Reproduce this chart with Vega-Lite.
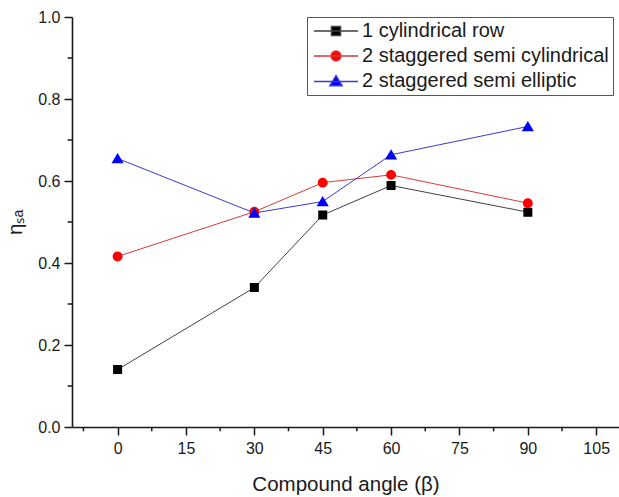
{
  "$schema": "https://vega.github.io/schema/vega-lite/v6.json",
  "width": 547,
  "height": 410,
  "autosize": {"type": "none"},
  "padding": {"left": 72, "top": 17, "right": 0, "bottom": 70},
  "background": "white",
  "config": {
    "view": {"stroke": null},
    "font": "Liberation Sans",
    "axis": {
      "domainColor": "#1a1a1a",
      "domainWidth": 1.6,
      "tickColor": "#1a1a1a",
      "tickWidth": 1.5,
      "tickSize": 8,
      "grid": false,
      "labelFont": "Liberation Sans",
      "labelFontSize": 16,
      "labelColor": "#1a1a1a",
      "titleFont": "Liberation Sans",
      "titleFontSize": 20.5,
      "titleFontWeight": "normal",
      "titleColor": "#1a1a1a"
    },
    "legend": {
      "orient": "none",
      "legendX": 235,
      "legendY": 0,
      "strokeColor": "#555555",
      "fillColor": "white",
      "padding": 4,
      "labelFont": "Liberation Sans",
      "labelFontSize": 20,
      "labelLimit": 0,
      "labelColor": "#1a1a1a",
      "symbolSize": 81,
      "symbolOffset": 15,
      "labelOffset": 16,
      "rowPadding": 5
    }
  },
  "datasets": {
    "main": [
      {"beta": 0, "eta": 0.140, "series": "1 cylindrical row"},
      {"beta": 30, "eta": 0.340, "series": "1 cylindrical row"},
      {"beta": 45, "eta": 0.517, "series": "1 cylindrical row"},
      {"beta": 60, "eta": 0.589, "series": "1 cylindrical row"},
      {"beta": 90, "eta": 0.524, "series": "1 cylindrical row"},
      {"beta": 0, "eta": 0.416, "series": "2 staggered semi cylindrical"},
      {"beta": 30, "eta": 0.525, "series": "2 staggered semi cylindrical"},
      {"beta": 45, "eta": 0.596, "series": "2 staggered semi cylindrical"},
      {"beta": 60, "eta": 0.615, "series": "2 staggered semi cylindrical"},
      {"beta": 90, "eta": 0.546, "series": "2 staggered semi cylindrical"},
      {"beta": 0, "eta": 0.655, "series": "2 staggered semi elliptic"},
      {"beta": 30, "eta": 0.522, "series": "2 staggered semi elliptic"},
      {"beta": 45, "eta": 0.550, "series": "2 staggered semi elliptic"},
      {"beta": 60, "eta": 0.664, "series": "2 staggered semi elliptic"},
      {"beta": 90, "eta": 0.733, "series": "2 staggered semi elliptic"}
    ],
    "xminor": [
      {"xm": -7.5}, {"xm": 7.5}, {"xm": 22.5}, {"xm": 37.5},
      {"xm": 52.5}, {"xm": 67.5}, {"xm": 82.5}, {"xm": 97.5}
    ],
    "yminor": [
      {"ym": 0.1}, {"ym": 0.3}, {"ym": 0.5}, {"ym": 0.7}, {"ym": 0.9}
    ]
  },
  "layer": [
    {
      "data": {"name": "xminor"},
      "mark": {"type": "rule", "color": "#1a1a1a", "strokeWidth": 1.5, "clip": false},
      "encoding": {
        "x": {"field": "xm", "type": "quantitative", "scale": {"domain": [-10, 110], "nice": false, "zero": false}},
        "y": {"datum": 0, "type": "quantitative", "scale": {"domain": [0, 1], "nice": false}},
        "y2": {"datum": -0.0105}
      }
    },
    {
      "data": {"name": "yminor"},
      "mark": {"type": "rule", "color": "#1a1a1a", "strokeWidth": 1.5, "clip": false},
      "encoding": {
        "y": {"field": "ym", "type": "quantitative"},
        "x": {"datum": -10, "type": "quantitative"},
        "x2": {"datum": -10.95}
      }
    },
    {
      "data": {"name": "main"},
      "transform": [{"filter": {"field": "series", "equal": "1 cylindrical row"}}],
      "mark": {"type": "line", "strokeWidth": 1, "color": "#404040"},
      "encoding": {
        "x": {
          "field": "beta", "type": "quantitative",
          "scale": {"domain": [-10, 110], "nice": false, "zero": false},
          "axis": {"values": [0, 15, 30, 45, 60, 75, 90, 105], "title": "Compound angle (β)", "labelPadding": 5, "titlePadding": 18}
        },
        "y": {
          "field": "eta", "type": "quantitative",
          "scale": {"domain": [0, 1], "nice": false},
          "axis": {"values": [0, 0.2, 0.4, 0.6, 0.8, 1.0], "format": ".1f", "title": "ηₛₐ", "labelPadding": 4, "titlePadding": 12}
        }
      }
    },
    {
      "data": {"name": "main"},
      "transform": [{"filter": {"field": "series", "equal": "2 staggered semi cylindrical"}}],
      "mark": {"type": "line", "strokeWidth": 1, "color": "#d83a3a"},
      "encoding": {
        "x": {"field": "beta", "type": "quantitative"},
        "y": {"field": "eta", "type": "quantitative"}
      }
    },
    {
      "data": {"name": "main"},
      "transform": [{"filter": {"field": "series", "equal": "2 staggered semi elliptic"}}],
      "mark": {"type": "line", "strokeWidth": 1, "color": "#3a3ad0"},
      "encoding": {
        "x": {"field": "beta", "type": "quantitative"},
        "y": {"field": "eta", "type": "quantitative"}
      }
    },
    {
      "data": {"name": "main"},
      "mark": {"type": "point", "filled": true, "size": 81, "strokeWidth": 0, "opacity": 1},
      "encoding": {
        "x": {"field": "beta", "type": "quantitative"},
        "y": {"field": "eta", "type": "quantitative"},
        "fill": {
          "field": "series", "type": "nominal",
          "scale": {"domain": ["1 cylindrical row", "2 staggered semi cylindrical", "2 staggered semi elliptic"], "range": ["#000000", "#ff0000", "#0000ff"]},
          "legend": {
            "title": null,
            "encode": {"symbols": {"strokeWidth": {"value": 1}}}
          }
        },
        "stroke": {
          "field": "series", "type": "nominal",
          "scale": {"domain": ["1 cylindrical row", "2 staggered semi cylindrical", "2 staggered semi elliptic"], "range": ["#404040", "#d83a3a", "#3a3ad0"]},
          "legend": {
            "title": null,
            "encode": {"symbols": {"strokeWidth": {"value": 1}}}
          }
        },
        "shape": {
          "field": "series", "type": "nominal",
          "scale": {
            "domain": ["1 cylindrical row", "2 staggered semi cylindrical", "2 staggered semi elliptic"],
            "range": [
              "M-4.9,0H4.9M-1,-1H1V1H-1Z",
              "M-4.9,0H4.9M-1.1,0A1.1,1.1,0,1,0,1.1,0A1.1,1.1,0,1,0,-1.1,0Z",
              "M-4.9,0.1H4.9M0,-1.2L1.35,1.05H-1.35Z"
            ]
          },
          "legend": {
            "title": null,
            "encode": {"symbols": {"strokeWidth": {"value": 1}}}
          }
        }
      }
    }
  ]
}
